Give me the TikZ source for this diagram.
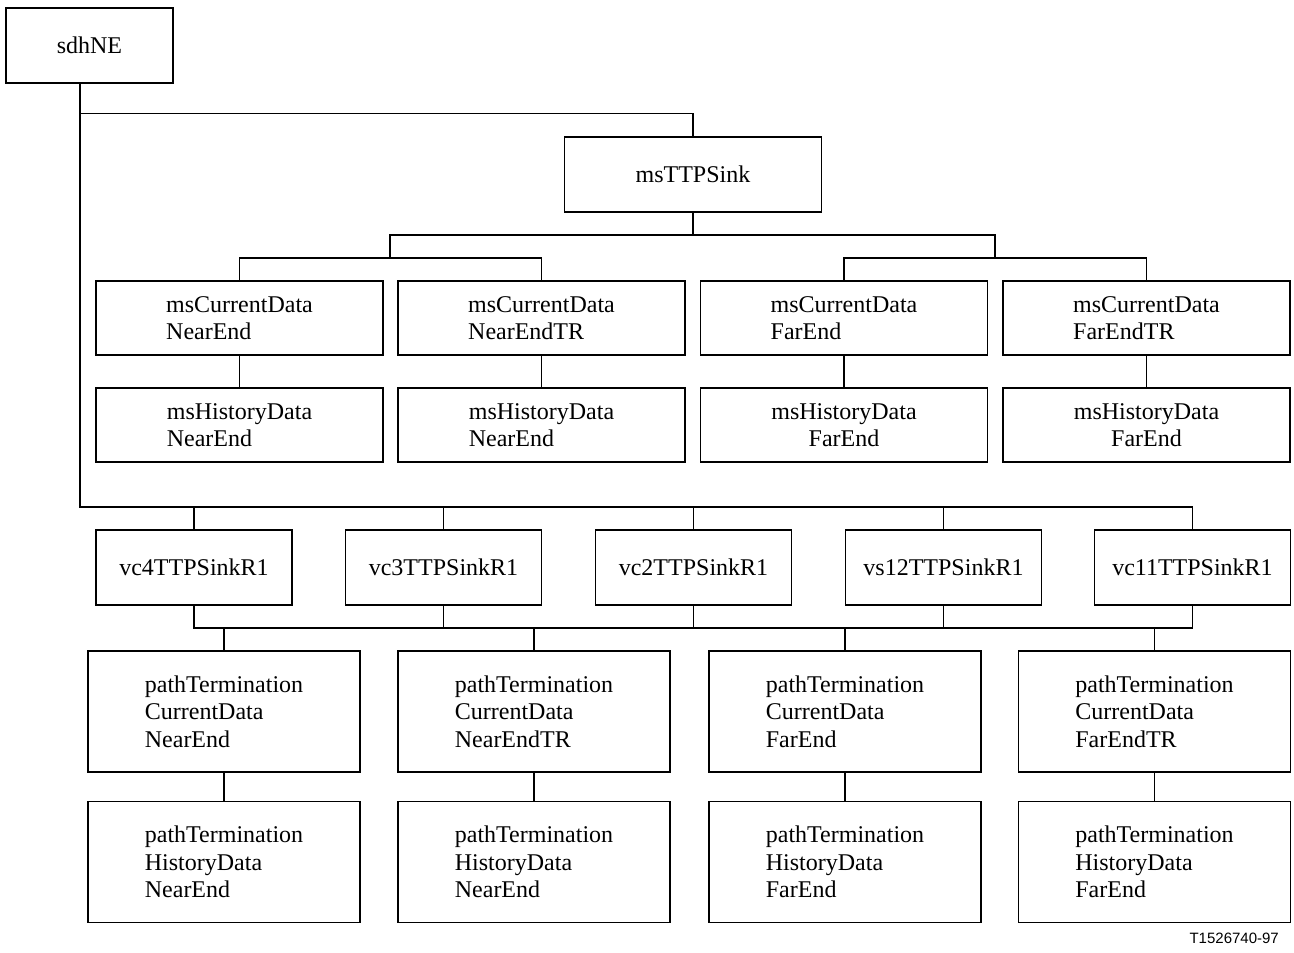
\documentclass[tikz,border=0pt]{standalone}
\usepackage{fontspec}
\setmainfont{Liberation Serif}
\newfontfamily\labelfont{Liberation Sans}
\begin{document}
\begin{tikzpicture}[x=1pt,y=-1pt,
  box/.style={draw, line width=1.1pt, inner sep=0pt, anchor=center,
    font=\fontsize{24}{27.5}\selectfont, align=left},
  cbox/.style={box, align=center},
  link/.style={draw, line width=1.1pt}]
\useasboundingbox (0,0) rectangle (1294,953);
% top
\node[box, minimum width=167pt, minimum height=75pt] (sdh) at (89.5,45.5) {sdhNE};
\node[box, minimum width=257pt, minimum height=75pt] (ms) at (693,174.5) {msTTPSink};
% ms current data row
\foreach \n/\cx/\t in {c1/239.5/{msCurrentData\\NearEnd}, c2/541.5/{msCurrentData\\NearEndTR}, c3/844/{msCurrentData\\FarEnd}, c4/1146.5/{msCurrentData\\FarEndTR}}{
  \node[box, minimum width=287pt, minimum height=74pt] (\n) at (\cx,318) {\t};
}
\node[box, minimum width=287pt, minimum height=74pt] (h1) at (239.5,425) {msHistoryData\\NearEnd};
\node[box, minimum width=287pt, minimum height=74pt] (h2) at (541.5,425) {msHistoryData\\NearEnd};
\node[cbox, minimum width=287pt, minimum height=74pt] (h3) at (844,425) {msHistoryData\\FarEnd};
\node[cbox, minimum width=287pt, minimum height=74pt] (h4) at (1146.5,425) {msHistoryData\\FarEnd};
% vc row
\foreach \n/\cx/\t in {v1/194/vc4TTPSinkR1, v2/443.5/vc3TTPSinkR1, v3/693.5/vc2TTPSinkR1, v4/943.5/vs12TTPSinkR1, v5/1192.5/vc11TTPSinkR1}{
  \node[box, minimum width=196pt, minimum height=75pt] (\n) at (\cx,567.5) {\t};
}
% path termination rows
\foreach \n/\cx/\t in {p1/224/{pathTermination\\CurrentData\\NearEnd}, p2/534/{pathTermination\\CurrentData\\NearEndTR}, p3/845/{pathTermination\\CurrentData\\FarEnd}, p4/1154.5/{pathTermination\\CurrentData\\FarEndTR}}{
  \node[box, minimum width=272pt, minimum height=121pt] (\n) at (\cx,711.5) {\t};
}
\foreach \n/\cx/\t in {q1/224/{pathTermination\\HistoryData\\NearEnd}, q2/534/{pathTermination\\HistoryData\\NearEnd}, q3/845/{pathTermination\\HistoryData\\FarEnd}, q4/1154.5/{pathTermination\\HistoryData\\FarEnd}}{
  \node[box, minimum width=272pt, minimum height=121pt] (\n) at (\cx,862) {\t};
}
% coordinates for buses
\coordinate (t1) at (80,113.5);
\coordinate (t2) at (80,507);
\coordinate (mb) at (693,235);
\coordinate (lb) at (390,235);
\coordinate (rb) at (995,235);
\coordinate (lbb) at (390,258);
\coordinate (rbb) at (995,258);
\coordinate (vb) at (194,628);
% connectors
\draw[link] (sdh.south -| t1) -- (t2) -- (t2 -| v5.north) -- (v5.north);
\draw[link] (t1) -- (t1 -| ms.north) -- (ms.north);
\foreach \v in {v1,v2,v3,v4}{ \draw[link] (t2 -| \v.north) -- (\v.north); }
\draw[link] (ms.south) -- (mb);
\draw[link] (lbb) -- (lb) -- (rb) -- (rbb);
\draw[link] (c1.north) -- (lbb -| c1.north) -- (lbb -| c2.north) -- (c2.north);
\draw[link] (c3.north) -- (rbb -| c3.north) -- (rbb -| c4.north) -- (c4.north);
\foreach \a/\b in {c1/h1,c2/h2,c3/h3,c4/h4,p1/q1,p2/q2,p3/q3,p4/q4}{ \draw[link] (\a.south) -- (\b.north); }
\draw[link] (v1.south) -- (vb) -- (vb -| v5.south) -- (v5.south);
\foreach \v in {v2,v3,v4}{ \draw[link] (\v.south) -- (vb -| \v.south); }
\foreach \p in {p1,p2,p3,p4}{ \draw[link] (vb -| \p.north) -- (\p.north); }
\node[font=\labelfont\fontsize{15}{17}\selectfont, anchor=base east, inner sep=0pt] (lab) at (1279,943) {T1526740-97};
\end{tikzpicture}
\end{document}
